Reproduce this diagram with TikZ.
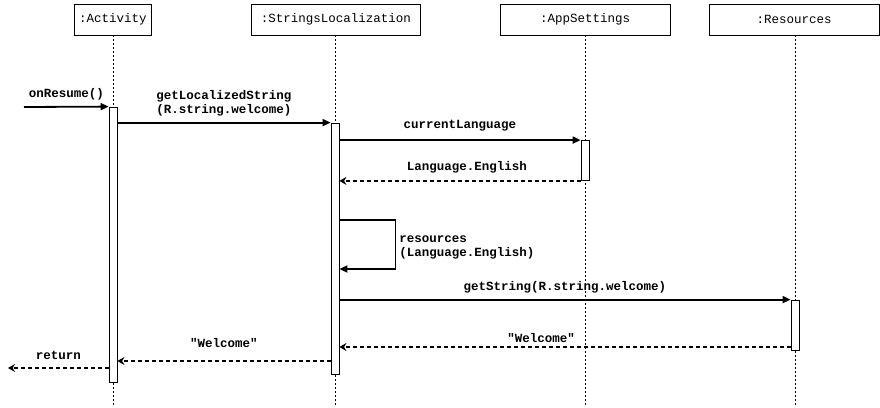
\documentclass[tikz,border=0pt]{standalone}
\usepackage{fontspec}
\setmonofont{Liberation Mono}
\usetikzlibrary{
	arrows.meta,
	calc,
	positioning,
}
\tikzset{object/.style={draw,rectangle,line width=.8pt,minimum height=31pt,inner sep=0pt,font=\ttfamily\fontsize{12.5}{14.5}\selectfont,}}
\tikzset{activation/.style={draw,rectangle,fill=white,line width=.8pt,minimum width=8pt,inner sep=0pt,}}
\tikzset{lifeline/.style={line width=.8pt,dash pattern=on 2pt off 2pt,}}
\tikzset{call/.style={line width=1.8pt,-{Triangle[length=8pt,width=7pt]},}}
\tikzset{reply/.style={line width=1.8pt,dash pattern=on 4pt off 3pt,-{Stealth[length=7pt,width=8pt]},}}
\tikzset{msg/.style={font=\ttfamily\bfseries\fontsize{12.5}{14.5}\selectfont,inner sep=0pt,anchor=base,yshift=9pt,}}

\begin{document}
\begin{tikzpicture}[x=1pt,y=-1pt]
\useasboundingbox (0,0) rectangle (880,407);

% objects
\node[object,minimum width=77pt](act) at(113,19.5) {:Activity};
\node[object,minimum width=169pt](loc) at(336,19.5) {:StringsLocalization};
\node[object,minimum width=170pt](app) at(585,19.5) {:AppSettings};
\node[object,minimum width=170pt](res) at(794,19.5) {:Resources};

% lifelines
\draw[lifeline] (act.south) -- (act.south |- 0,407);
\draw[lifeline] (loc.south -| 335,0) -- (335,407);
\draw[lifeline] (app.south) -- (app.south |- 0,407);
\draw[lifeline] (res.south -| 795,0) -- (795,407);

% activations
\node[activation,minimum height=275pt](actbar) at(113,244.5) {};
\node[activation,minimum height=251pt](locbar) at(335,248.5) {};
\node[activation,minimum height=40pt](appbar) at(585,160.5) {};
\node[activation,minimum height=50pt](resbar) at(795,325) {};

\coordinate(caller) at(24,107);
\coordinate(back) at(8,368);

% messages
\draw[call] (caller) -- (actbar.north west) node[msg,midway]{onResume()};
\draw[call] (actbar.east |- locbar.north) -- (locbar.north west)
	node[msg,midway,align=center]{getLocalizedString\\(R.string.welcome)};
\draw[call] (locbar.east |- appbar.north) -- (appbar.north west) node[msg,midway,yshift=3pt]{currentLanguage};
\draw[reply] (appbar.south west) -- (locbar.east |- appbar.south) node[msg,midway,xshift=7pt,yshift=1pt]{Language.English};
\draw[call] (locbar.east |- 0,220) -- ++(56,0) -- ++(0,49)
	node[msg,midway,anchor=west,align=left,yshift=-12pt,xshift=3pt]{resources\\(Language.English)}
	-- (locbar.east |- 0,269);
\draw[call] (locbar.east |- resbar.north) -- (resbar.north west) node[msg,midway]{getString(R.string.welcome)};
\draw[reply] (resbar.west |- 0,347) -- (locbar.east |- 0,347) node[msg,midway,xshift=-24pt,yshift=-4pt]{"Welcome"};
\draw[reply] (locbar.west |- 0,361) -- (actbar.east |- 0,361) node[msg,midway,yshift=5pt]{"Welcome"};
\draw[reply] (actbar.west |- 0,368) -- (back) node[msg,midway]{return};

\end{tikzpicture}
\end{document}
